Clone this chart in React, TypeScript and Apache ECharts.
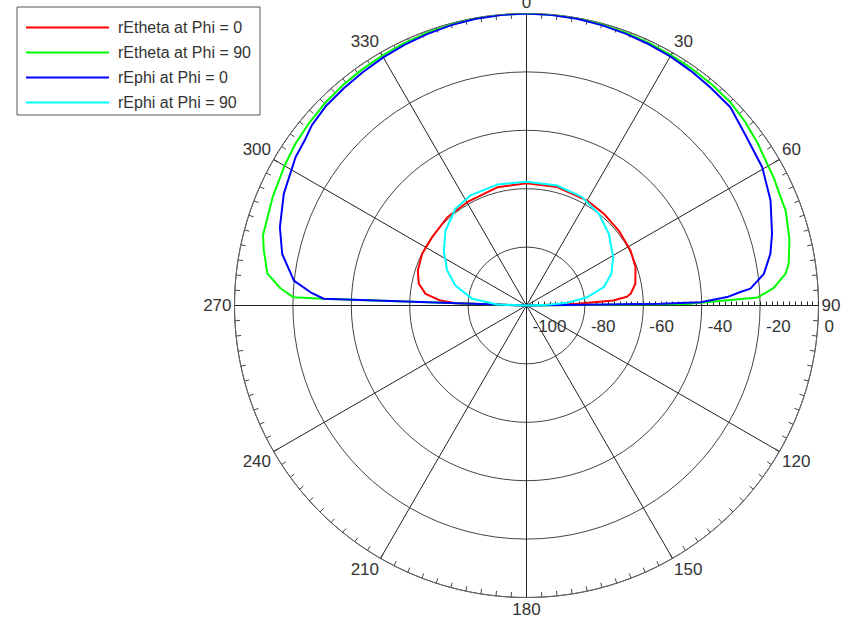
import React, { useEffect, useRef } from 'react';
import * as echarts from 'echarts';

// ---- Data (theta in degrees: negative = left half, value in dB) ----
const seriesNames = ['rEtheta at Phi = 0', 'rEtheta at Phi = 90', 'rEphi at Phi = 0', 'rEphi at Phi = 90'];
const seriesColors = ['#ff0000', '#00ff00', '#0000ff', '#00ffff'];

const redTheta = [-90, -88.1, -86.7, -83.4, -78.6, -72.2, -63.6, -54.1, -41.9, -29.9, -13.9, 0, 14.5, 30, 40.1, 50.9, 62.1, 70.6, 78.7, 83.6, 85, 86.7, 88.1, 90];
const redDb = [-100, -75.7, -70.5, -65.2, -62.4, -60.9, -60.1, -60.1, -59.4, -59.2, -58.3, -58.1, -58.1, -58.5, -58.9, -59.3, -59.7, -60.4, -62, -64.1, -65.5, -70.2, -82.5, -100];

const greenTheta = [-90, -88.1, -88, -86, -83, -78, -75, -67, -60, -55, -50, -45, -40, -35, -30, -25, -20, -15, -10, -5, 0, 5, 10, 15, 20, 25, 30, 35, 40, 45, 50, 55, 62.6, 70, 76, 81, 83, 86, 88, 89.5, 90];
const greenDb = [-100, -30, -20.2, -15.5, -10.6, -8, -6.6, -5.5, -4.3, -3.4, -2.8, -2.2, -1.8, -1.5, -1.2, -0.9, -0.6, -0.4, -0.2, -0.05, 0, -0.05, -0.2, -0.4, -0.6, -0.8, -1.0, -1.1, -1.2, -1.4, -2.2, -3.3, -4.7, -5.5, -7.2, -9.1, -10.6, -15.2, -20.8, -45, -100];

const blueTheta = [-90, -88.1, -86.5, -83.9, -78.1, -72.4, -65.3, -57.3, -53, -50, -45, -40, -35, -30, -25, -20, -15, -10, -5, 0, 5, 10, 15, 20, 25, 30, 35, 40, 45.8, 52.2, 59.6, 66.7, 73.7, 78, 82.4, 85.7, 86.4, 87.6, 88.9, 89.3, 90];
const blueDb = [-100, -30.5, -25.9, -19.9, -14.5, -11.4, -8.5, -6, -5.2, -4.0, -3.1, -2.8, -2.4, -1.9, -1.4, -1.0, -0.6, -0.3, -0.1, 0, -0.1, -0.3, -0.6, -0.9, -1.2, -1.5, -1.9, -2.3, -2.6, -5, -6.4, -9, -12.4, -14.6, -18, -23.1, -26.6, -31.2, -40.4, -54, -100];

const cyanTheta = [-90, -88, -83, -74.3, -66.2, -56.4, -47.2, -36.3, -27, -13.6, 0, 14.3, 27.2, 38.3, 48.9, 60.9, 69.5, 76.7, 82.2, 86.2, 88, 90];
const cyanDb = [-100, -90, -81.3, -74.7, -70.3, -66, -62.2, -58.9, -57.7, -57.4, -57.6, -57.6, -58.3, -60, -62.6, -66, -69, -72.8, -79, -86, -92.9, -100];

const RADIAL_MIN = -100;
const RADIAL_MAX = 0;
const RADIAL_STEP = 20;
const ANGLE_STEP = 30;

const FONT = '"Liberation Sans", Arial, sans-serif';

function toPolar(theta: number[], db: number[]) {
  return theta.map((t, i) => [db[i], t < 0 ? t + 360 : t]);
}

export default function App() {
  const ref = useRef<HTMLDivElement>(null);

  useEffect(() => {
    if (!ref.current) return;
    const chart = echarts.init(ref.current, undefined, { renderer: 'svg' });
    const center = [526.5, 305.5];
    const radius = 292;
    const all = [
      toPolar(redTheta, redDb),
      toPolar(greenTheta, greenDb),
      toPolar(blueTheta, blueDb),
      toPolar(cyanTheta, cyanDb),
    ];
    chart.setOption({
      animation: false,
      backgroundColor: '#ffffff',
      legend: {
        data: seriesNames,
        orient: 'vertical',
        left: 17,
        top: 7,
        icon: 'rect',
        itemWidth: 83,
        itemHeight: 2,
        itemGap: 0,
        padding: [8, 9, 0, 9],
        borderColor: '#555',
        borderWidth: 1,
        textStyle: { fontSize: 16, lineHeight: 25, color: '#333', fontFamily: FONT, padding: [0, 0, 0, 4] },
      },
      polar: [
        { center, radius },
        { center, radius },
      ],
      angleAxis: [
        {
          polarIndex: 0,
          type: 'value',
          min: 0,
          max: 360,
          interval: ANGLE_STEP,
          startAngle: 90,
          clockwise: true,
          axisLine: { show: true, lineStyle: { color: '#666', width: 1 } },
          axisTick: { show: true, inside: true, length: 5, lineStyle: { color: '#444' } },
          minorTick: { show: true, splitNumber: 10, length: 5, lineStyle: { color: '#444', width: 1 } },
          axisLabel: {
            margin: 3,
            fontSize: 17,
            color: '#333',
            fontFamily: FONT,
            formatter: (v: number) => (v === 360 ? '' : String(v)),
          },
          splitLine: { show: true, lineStyle: { color: '#222', width: 1 } },
        },
        {
          polarIndex: 1,
          type: 'value',
          min: 0,
          max: 360,
          startAngle: 0,
          show: false,
        },
      ],
      radiusAxis: [
        {
          polarIndex: 0,
          type: 'value',
          min: RADIAL_MIN,
          max: RADIAL_MAX,
          interval: RADIAL_STEP,
          axisLine: { show: false },
          axisTick: { show: false },
          axisLabel: { show: false },
          splitLine: { show: true, lineStyle: { color: '#444', width: 1 } },
        },
        {
          polarIndex: 1,
          type: 'value',
          min: RADIAL_MIN,
          max: RADIAL_MAX,
          interval: RADIAL_STEP,
          axisLine: { show: true, lineStyle: { color: '#222', width: 1 } },
          axisTick: { show: true, length: 4, lineStyle: { color: '#222' } },
          minorTick: { show: true, splitNumber: 10, length: 4, lineStyle: { color: '#222' } },
          axisLabel: {
            margin: -12,
            align: 'left',
            verticalAlign: 'top',
            padding: [0, 0, 0, 6],
            fontSize: 17,
            color: '#333',
            fontFamily: FONT,
          },
          splitLine: { show: false },
        },
      ],
      series: all.map((data, i) => ({
        type: 'line',
        name: seriesNames[i],
        coordinateSystem: 'polar',
        polarIndex: 0,
        data,
        symbol: 'none',
        smooth: false,
        lineStyle: { width: 2, color: seriesColors[i] },
        itemStyle: { color: seriesColors[i] },
      })),
    });
    return () => chart.dispose();
  }, []);

  return (
    <div
      ref={ref}
      style={{ position: 'fixed', left: 0, top: 0, width: 846, height: 620, background: '#fff' }}
    />
  );
}
